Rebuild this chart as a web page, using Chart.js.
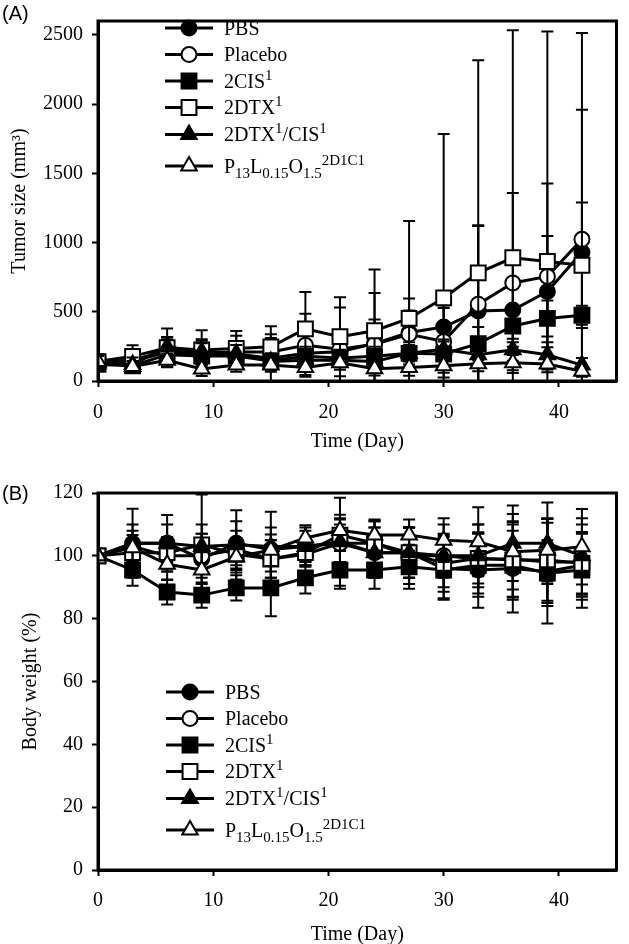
<!DOCTYPE html>
<html>
<head>
<meta charset="utf-8">
<script src="https://cdn.jsdelivr.net/npm/chart.js@4.4.1/dist/chart.umd.min.js"></script>
<style>
  html, body { margin: 0; padding: 0; background: #fff; }
  canvas { display: block; }
</style>
</head>
<body>
<canvas id="tumorChart" width="629" height="472"></canvas>
<canvas id="weightChart" width="629" height="472"></canvas>
<script>
const days = [0, 3, 6, 9, 12, 15, 18, 21, 24, 27, 30, 33, 36, 39, 42];
const dayTicks = [0, 10, 20, 30, 40];
const tumorTicks = [0, 500, 1000, 1500, 2000, 2500];
const weightTicks = [0, 20, 40, 60, 80, 100, 120];

// (A) tumor size, mm3 (mean and error bar)
const tumorPBS        = [130, 140, 210, 190, 195, 165, 200, 212, 270, 350, 390, 505, 513, 646, 930];
const tumorPBSErr     = [55, 60, 105, 111, 90, 173, 90, 100, 365, 160, 137, 615, 233, 402, 1029];
const tumorPlacebo    = [140, 150, 220, 200, 210, 210, 258, 230, 265, 338, 286, 555, 708, 755, 1023];
const tumorPlaceboErr = [50, 55, 80, 90, 116, 100, 228, 300, 180, 258, 260, 570, 650, 672, 1491];
const tumor2CIS       = [120, 110, 190, 180, 180, 144, 178, 166, 178, 200, 195, 270, 397, 452, 475];
const tumor2CISErr    = [40, 45, 60, 60, 60, 55, 70, 60, 70, 80, 90, 120, 150, 130, 68];
const tumor2DTX       = [140, 178, 240, 224, 235, 247, 377, 320, 363, 452, 600, 781, 890, 863, 836];
const tumor2DTXErr    = [50, 80, 139, 143, 126, 148, 265, 285, 443, 703, 1183, 1536, 1644, 1662, 454];
const tumorCombo      = [130, 120, 247, 212, 200, 140, 150, 150, 140, 200, 230, 190, 226, 190, 115];
const tumorComboErr   = [50, 50, 70, 60, 60, 60, 60, 50, 60, 60, 70, 70, 80, 90, 51];
const tumorP13        = [140, 105, 149, 87, 116, 116, 98, 132, 89, 98, 110, 125, 132, 123, 70];
const tumorP13Err     = [40, 40, 50, 50, 50, 50, 55, 50, 50, 60, 50, 55, 55, 60, 40];

// (B) body weight, %
const weightPBS        = [100, 104, 104, 99, 104, 102, 103, 104, 101, 101, 96, 95.5, 96, 95, 97];
const weightPBSErr     = [0, 6, 6, 8, 7, 7, 5, 8, 8, 8, 10, 12, 14, 10, 10];
const weightPlacebo    = [100, 103, 100, 100, 102, 99, 100.5, 104, 104, 100, 100, 99, 99, 98, 98];
const weightPlaceboErr = [0, 5, 5, 7, 6, 6, 4, 6, 7, 9, 10, 11, 12, 14, 12];
const weight2CIS       = [100, 95.5, 88.5, 87.5, 89.8, 89.8, 93, 95.5, 95.5, 96.5, 95.5, 97, 97, 94.5, 95.5];
const weight2CISErr    = [0, 5, 4, 4, 4, 9, 5, 6, 6, 7, 9, 10, 11, 16, 12];
const weight2DTX       = [100, 101, 101, 103.5, 100.5, 99, 101, 106.6, 104, 101, 97.6, 99.2, 98.7, 98.7, 97.6];
const weight2DTXErr    = [0, 4, 5, 16, 5, 6, 4, 5, 7, 8, 9, 8, 12, 13, 10];
const weightCombo      = [100, 104, 104, 103, 103.5, 103, 103, 104.5, 101, 101, 100, 100, 104, 104, 100];
const weightComboErr   = [0, 11, 9, 7, 11, 11, 6, 14, 8, 8, 7, 10, 12, 13, 12];
const weightP13        = [100, 102.6, 97.3, 95.5, 99.7, 101.8, 105.7, 108.1, 106.6, 106.6, 105, 104.5, 101.3, 101.8, 102.9];
const weightP13Err     = [0, 4, 5, 6, 5, 5, 4, 5, 5, 5, 7, 11, 12, 10, 12];

// legend labels: [text, 'sub'|'sup']
const seriesLabels = [
    [['PBS']],
    [['Placebo']],
    [['2CIS'], ['1', 'sup']],
    [['2DTX'], ['1', 'sup']],
    [['2DTX'], ['1', 'sup'], ['/CIS'], ['1', 'sup']],
    [['P'], ['13', 'sub'], ['L'], ['0.15', 'sub'], ['O'], ['1.5', 'sub'], ['2D1C1', 'sup']]
];

const markers = [
    { style: 'circle', fill: '#000', radius: 7.5 },
    { style: 'circle', fill: '#fff', radius: 7.5 },
    { style: 'rect', fill: '#000', radius: 10.5 },
    { style: 'rect', fill: '#fff', radius: 10.5 },
    { style: 'triangle', fill: '#000', radius: 9 },
    { style: 'triangle', fill: '#fff', radius: 9 }
];

const serif = '"Liberation Serif", "Times New Roman", serif';

function drawMarker(ctx, m, x, y) {
    ctx.beginPath();
    if (m.style === 'circle') {
        ctx.arc(x, y, m.radius, 0, Math.PI * 2);
    } else if (m.style === 'rect') {
        const s = Math.SQRT1_2 * m.radius;
        ctx.rect(x - s, y - s, 2 * s, 2 * s);
    } else {
        const r = m.radius;
        ctx.moveTo(x, y - r);
        ctx.lineTo(x + r * 0.866, y + r / 2);
        ctx.lineTo(x - r * 0.866, y + r / 2);
        ctx.closePath();
    }
    ctx.fillStyle = m.fill;
    ctx.fill();
    ctx.lineWidth = 2;
    ctx.strokeStyle = '#000';
    ctx.stroke();
}

function drawRich(ctx, parts, x, baseline) {
    parts.forEach(p => {
        const small = p[1] === 'sub' || p[1] === 'sup';
        ctx.font = (small ? 15 : 20) + 'px ' + serif;
        const dy = p[1] === 'sub' ? 5 : p[1] === 'sup' ? -8 : 0;
        ctx.fillText(p[0], x, baseline + dy);
        x += ctx.measureText(p[0]).width;
    });
}

// error bars drawn just before each dataset, so its own symbols sit on top
const errorBars = {
    id: 'errorBars',
    beforeDatasetDraw(chart, args) {
        const ds = chart.data.datasets[args.index];
        if (!ds.errors) return;
        const ctx = chart.ctx;
        const area = chart.chartArea;
        const yScale = chart.scales.y;
        ctx.save();
        ctx.beginPath();
        ctx.rect(area.left, area.top, area.right - area.left, area.bottom - area.top);
        ctx.clip();
        ctx.strokeStyle = '#000';
        ctx.lineWidth = 2;
        args.meta.data.forEach((pt, i) => {
            const err = ds.errors[i];
            if (!err) return;
            const v = ds.data[i].y;
            const yTop = yScale.getPixelForValue(v + err);
            const yBot = yScale.getPixelForValue(v - err);
            ctx.beginPath();
            ctx.moveTo(pt.x, yTop);
            ctx.lineTo(pt.x, yBot);
            ctx.moveTo(pt.x - 6, yTop);
            ctx.lineTo(pt.x + 6, yTop);
            ctx.moveTo(pt.x - 6, yBot);
            ctx.lineTo(pt.x + 6, yBot);
            ctx.stroke();
        });
        ctx.restore();
    }
};

// frame, panel letter and legend
const decorations = {
    id: 'decorations',
    afterDraw(chart, args, opts) {
        const ctx = chart.ctx;
        const area = chart.chartArea;
        ctx.save();
        ctx.strokeStyle = '#000';
        ctx.lineWidth = 3;
        ctx.strokeRect(area.left, area.top, area.right - area.left, area.bottom - area.top);

        ctx.fillStyle = '#000';
        ctx.font = '20px "Liberation Sans", Arial, sans-serif';
        ctx.textBaseline = 'middle';
        ctx.textAlign = 'left';
        ctx.fillText(opts.panel, 2, opts.panelY);

        ctx.textBaseline = 'alphabetic';
        const rows = [0, 26.5, 53, 79.5, 106.5, 138];
        seriesLabels.forEach((parts, i) => {
            const y = opts.legendY + rows[i];
            ctx.strokeStyle = '#000';
            ctx.lineWidth = 3;
            ctx.beginPath();
            ctx.moveTo(opts.legendX, y);
            ctx.lineTo(opts.legendX + 48, y);
            ctx.stroke();
            drawMarker(ctx, markers[i], opts.legendX + 24, y);
            ctx.fillStyle = '#000';
            drawRich(ctx, parts, opts.legendX + 59, y + 6.5);
        });
        ctx.restore();
    }
};

function makeDatasets(values, errors) {
    return values.map((vals, i) => ({
        label: seriesLabels[i].map(p => p[0]).join(''),
        data: days.map((d, j) => ({ x: d, y: vals[j] })),
        errors: errors[i],
        order: 5 - i,
        borderColor: '#000',
        borderWidth: 3,
        pointStyle: markers[i].style,
        pointRadius: markers[i].radius,
        pointBackgroundColor: markers[i].fill,
        pointBorderColor: '#000',
        pointBorderWidth: 2,
        tension: 0
    }));
}

function axisOptions(cfg) {
    const tickFont = { family: serif, size: 20 };
    return {
        x: {
            type: 'linear', min: 0, max: 45,
            afterBuildTicks: s => { s.ticks = dayTicks.map(v => ({ value: v })); },
            ticks: { color: '#000', font: tickFont, padding: cfg.xTickPad, maxRotation: 0, callback: v => String(v) },
            grid: { drawOnChartArea: false, drawTicks: true, tickLength: 6, tickWidth: 2, tickColor: '#000' },
            border: { display: true, color: '#000', width: 3 },
            title: { display: true, text: 'Time (Day)', color: '#000',
                     font: { family: serif, size: 20, lineHeight: 1 }, padding: { top: 0, bottom: cfg.xTitlePad } },
            afterFit: s => { s.height = cfg.xHeight; }
        },
        y: {
            type: 'linear', min: 0, max: cfg.yMax,
            afterBuildTicks: s => { s.ticks = cfg.yTicks.map(v => ({ value: v })); },
            ticks: { color: '#000', font: tickFont, padding: 9, callback: v => String(v) },
            grid: { drawOnChartArea: false, drawTicks: true, tickLength: 6, tickWidth: 2, tickColor: '#000' },
            border: { display: true, color: '#000', width: 3 },
            title: { display: true, text: cfg.yTitle, color: '#000',
                     font: { family: serif, size: 20, lineHeight: 1 }, padding: { top: cfg.yTitlePad, bottom: 0 } },
            afterFit: s => { s.width = 98; }
        }
    };
}

Chart.defaults.animation = false;

const tumorChart = new Chart(document.getElementById('tumorChart'), {
    type: 'line',
    data: {
        datasets: makeDatasets(
            [tumorPBS, tumorPlacebo, tumor2CIS, tumor2DTX, tumorCombo, tumorP13],
            [tumorPBSErr, tumorPlaceboErr, tumor2CISErr, tumor2DTXErr, tumorComboErr, tumorP13Err])
    },
    options: {
        responsive: false,
        devicePixelRatio: 1,
        events: [],
        layout: { padding: { top: 2, right: 4, left: 0, bottom: 0 } },
        scales: axisOptions({ yMax: 2600, yTicks: tumorTicks, yTitle: 'Tumor size (mm\u00B3)', yTitlePad: 10,
                              xTickPad: 14, xTitlePad: 20, xHeight: 91 }),
        plugins: {
            legend: { display: false },
            tooltip: { enabled: false },
            decorations: { panel: '(A)', panelY: 14, legendX: 165, legendY: 28 }
        }
    },
    plugins: [errorBars, decorations]
});

const weightChart = new Chart(document.getElementById('weightChart'), {
    type: 'line',
    data: {
        datasets: makeDatasets(
            [weightPBS, weightPlacebo, weight2CIS, weight2DTX, weightCombo, weightP13],
            [weightPBSErr, weightPlaceboErr, weight2CISErr, weight2DTXErr, weightComboErr, weightP13Err])
    },
    options: {
        responsive: false,
        devicePixelRatio: 1,
        events: [],
        layout: { padding: { top: 17, right: 4, left: 0, bottom: 0 } },
        scales: axisOptions({ yMax: 120, yTicks: weightTicks, yTitle: 'Body weight (%)', yTitlePad: 21,
                              xTickPad: 13, xTitlePad: -1, xHeight: 74 }),
        plugins: {
            legend: { display: false },
            tooltip: { enabled: false },
            decorations: { panel: '(B)', panelY: 22, legendX: 166, legendY: 220 }
        }
    },
    plugins: [errorBars, decorations]
});
</script>
</body>
</html>
